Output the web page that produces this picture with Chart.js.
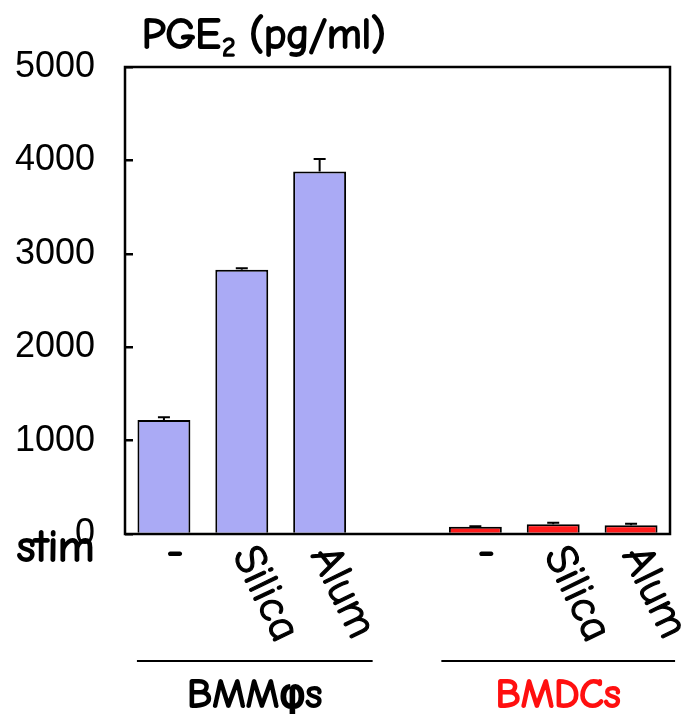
<!DOCTYPE html>
<html>
<head>
<meta charset="utf-8">
<script src="https://cdn.jsdelivr.net/npm/chart.js@4/dist/chart.umd.min.js"></script>
<style>
  html, body { margin: 0; padding: 0; background: #fff; }
  #wrap { width: 681px; height: 714px; }
</style>
</head>
<body>
<div id="wrap"><canvas id="grafico"></canvas></div>
<script>
// ========== DADOS ==========
const categorias = ['-', 'Silica', 'Alum', '', '-', 'Silica', 'Alum'];
const valores = [1220, 2830, 3880, null, 78, 105, 95];
const erros = [30, 15, 135, null, 5, 15, 15];
const cores = ['#aaaaf5', '#aaaaf5', '#aaaaf5', '#aaaaf5', '#ff1a1a', '#ff1a1a', '#ff1a1a'];
const grupos = [
    { nome: 'BMM\u03c6s', de: 0, ate: 2, cor: '#000' },
    { nome: 'BMDCs', de: 4, ate: 6, cor: '#ff1010' }
];
const ticksY = [0, 1000, 2000, 3000, 4000, 5000];

const fonteComic = '"Comic Sans MS", "Comic Neue", "DejaVu Sans", sans-serif';

// texto "negrito" (preenche e contorna)
function textoGrosso(ctx, txt, x, y, espessura) {
    ctx.lineJoin = 'round';
    ctx.lineWidth = espessura;
    ctx.strokeStyle = ctx.fillStyle;
    ctx.strokeText(txt, x, y);
    ctx.fillText(txt, x, y);
}

// ========== BARRAS DE ERRO ==========
const pluginErros = {
    id: 'erros',
    afterDatasetsDraw(chart) {
        const ctx = chart.ctx;
        const y = chart.scales.y;
        const meta = chart.getDatasetMeta(0);
        ctx.save();
        ctx.strokeStyle = '#000';
        ctx.lineWidth = 2;
        valores.forEach((v, i) => {
            if (v == null || erros[i] == null) return;
            const x = meta.data[i].x;
            const yBarra = y.getPixelForValue(v);
            const yTopo = y.getPixelForValue(v + erros[i]);
            ctx.beginPath();
            ctx.moveTo(x, yBarra);
            ctx.lineTo(x, yTopo);
            ctx.moveTo(x - 6, yTopo);
            ctx.lineTo(x + 6, yTopo);
            ctx.stroke();
        });
        ctx.restore();
    }
};

// ========== TEXTOS E MOLDURA ==========
const pluginTextos = {
    id: 'textos',
    afterDraw(chart) {
        const ctx = chart.ctx;
        const area = chart.chartArea;
        const xs = chart.scales.x;
        ctx.save();

        // moldura
        ctx.strokeStyle = '#000';
        ctx.lineWidth = 2.5;
        ctx.strokeRect(area.left, area.top, area.right - area.left, area.bottom - area.top);

        // título PGE2 (pg/ml)
        ctx.fillStyle = '#000';
        ctx.textBaseline = 'alphabetic';
        ctx.textAlign = 'left';
        let tx = 142;
        ctx.font = '42px ' + fonteComic;
        textoGrosso(ctx, 'PGE', tx, 48, 2);
        tx += ctx.measureText('PGE').width + 1;
        ctx.font = '26px ' + fonteComic;
        textoGrosso(ctx, '2', tx, 56, 1.5);
        tx += ctx.measureText('2').width;
        ctx.font = '42px ' + fonteComic;
        textoGrosso(ctx, ' (pg/ml)', tx, 48, 2);

        // stim
        ctx.font = '44px ' + fonteComic;
        ctx.textBaseline = 'middle';
        textoGrosso(ctx, 'stim', 17, 549, 2);

        // rótulos das categorias
        categorias.forEach((c, i) => {
            if (!c) return;
            const x = xs.getPixelForValue(i);
            if (c === '-') {
                ctx.font = '40px ' + fonteComic;
                ctx.textAlign = 'center';
                ctx.textBaseline = 'middle';
                textoGrosso(ctx, c, x + 11, 553, 2);
            } else {
                ctx.save();
                ctx.translate(x + 2, 549);
                ctx.rotate(64 * Math.PI / 180);
                ctx.font = '45px ' + fonteComic;
                ctx.textAlign = 'left';
                ctx.textBaseline = 'middle';
                textoGrosso(ctx, c, 0, 0, 1.2);
                ctx.restore();
            }
        });

        // grupos
        grupos.forEach((g, k) => {
            const x1 = xs.getPixelForValue(g.de) - (k === 0 ? 27 : 34);
            const x2 = xs.getPixelForValue(g.ate) + (k === 0 ? 53 : 44);
            ctx.strokeStyle = '#000';
            ctx.lineWidth = 1.8;
            ctx.beginPath();
            ctx.moveTo(x1, 661);
            ctx.lineTo(x2, 661);
            ctx.stroke();
            ctx.fillStyle = g.cor;
            ctx.font = '40px ' + fonteComic;
            ctx.textAlign = 'center';
            ctx.textBaseline = 'middle';
            textoGrosso(ctx, g.nome, (x1 + x2) / 2, 696, 2);
        });

        ctx.restore();
    }
};

// ========== GRÁFICO ==========
const ctxGrafico = document.getElementById('grafico').getContext('2d');
const grafico = new Chart(ctxGrafico, {
    type: 'bar',
    data: {
        labels: categorias,
        datasets: [{
            data: valores,
            backgroundColor: cores,
            borderColor: '#000',
            borderWidth: 2,
            barPercentage: 0.68,
            categoryPercentage: 1
        }]
    },
    options: {
        responsive: true,
        maintainAspectRatio: false,
        animation: false,
        layout: { padding: { top: 67, right: 11, left: 0, bottom: 0 } },
        plugins: {
            legend: { display: false },
            tooltip: { enabled: false },
            title: { display: false }
        },
        scales: {
            x: {
                grid: { display: false, drawTicks: false },
                border: { display: false },
                ticks: { display: false },
                afterFit: s => { s.height = 180; }
            },
            y: {
                min: 0,
                max: 5000,
                afterBuildTicks: s => { s.ticks = ticksY.map(v => ({ value: v })); },
                ticks: {
                    color: '#000',
                    padding: 38,
                    font: { family: '"Liberation Sans", Arial, sans-serif', size: 36 },
                    callback: v => String(v)
                },
                grid: { drawOnChartArea: false, tickLength: -8, color: '#000', lineWidth: 2.5 },
                border: { display: false },
                afterFit: s => { s.width = 125; }
            }
        }
    },
    plugins: [pluginErros, pluginTextos]
});
</script>
</body>
</html>
